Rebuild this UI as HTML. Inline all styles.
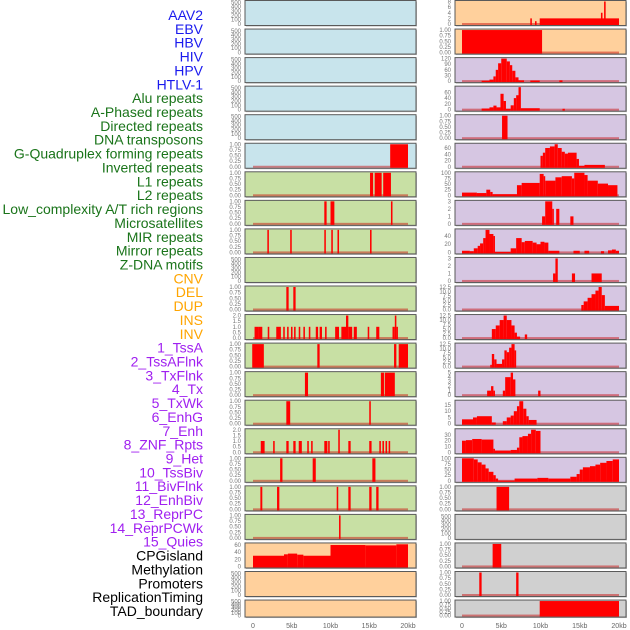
<!DOCTYPE html>
<html><head><meta charset="utf-8"><style>
body{margin:0;background:#fff;}
svg{display:block;font-family:"Liberation Sans",sans-serif;}
</style></head><body>
<svg id="chart" width="630" height="630" xmlns="http://www.w3.org/2000/svg"></svg>
<script>
const labels=["AAV2","EBV","HBV","HIV","HPV","HTLV-1","Alu repeats","A-Phased repeats","Directed repeats","DNA transposons","G-Quadruplex forming repeats","Inverted repeats","L1 repeats","L2 repeats","Low_complexity A/T rich regions","Microsatellites","MIR repeats","Mirror repeats","Z-DNA motifs","CNV","DEL","DUP","INS","INV","1_TssA","2_TssAFlnk","3_TxFlnk","4_Tx","5_TxWk","6_EnhG","7_Enh","8_ZNF_Rpts","9_Het","10_TssBiv","11_BivFlnk","12_EnhBiv","13_ReprPC","14_ReprPCWk","15_Quies","CPGisland","Methylation","Promoters","ReplicationTiming","TAD_boundary"];
const labelColors=["#1a1aee","#1a1aee","#1a1aee","#1a1aee","#1a1aee","#1a1aee","#1a741a","#1a741a","#1a741a","#1a741a","#1a741a","#1a741a","#1a741a","#1a741a","#1a741a","#1a741a","#1a741a","#1a741a","#1a741a","#ffa500","#ffa500","#ffa500","#ffa500","#ffa500","#a020f0","#a020f0","#a020f0","#a020f0","#a020f0","#a020f0","#a020f0","#a020f0","#a020f0","#a020f0","#a020f0","#a020f0","#a020f0","#a020f0","#a020f0","#000","#000","#000","#000","#000"];
const xTicks=["0","5kb","10kb","15kb","20kb"];
const xTickVals=[0,5,10,15,20];
const T500=["0","100","200","300","400","500"];
const T1=["0.00","0.25","0.50","0.75","1.00"];
const T2=["0.0","0.5","1.0","1.5","2.0"];
const T125=["0.0","2.5","5.0","7.5","10.0","12.5"];
const BLUE="#c8e4ec",GREEN="#c8e0a4",PEACH="#ffd09c",LAV="#d6c6e2",GRAY="#d0d0d0";
const leftBg=[BLUE,BLUE,BLUE,BLUE,BLUE,BLUE,GREEN,GREEN,GREEN,GREEN,GREEN,GREEN,GREEN,GREEN,GREEN,GREEN,GREEN,GREEN,GREEN,PEACH,PEACH,PEACH];
const leftTicks=[T500,T500,T500,T500,T500,T1,T1,T1,T1,T500,T1,T2,T1,T1,T1,T2,T1,T1,T1,["0","20","40","60"],T500,T500];
const leftMax=[520,520,520,520,520,1,1,1,1,520,1,2,1,1,1,2,1,1,1,63,520,520];
const leftBars=[[],[],[],[],[],
[[17.7,20,1]],
[[15.1,15.5,1],[15.7,16.6,1],[16.8,17.8,1]],
[[9.2,9.5,1],[10.0,10.5,1],[17.8,18.0,1]],
[[1.85,2.05,1],[4.8,5.0,1],[9.2,9.4,1],[10.1,10.3,1],[10.9,11.1,1],[15.1,15.3,1]],
[],
[[4.3,4.6,1],[5.2,5.5,1]],
[[0.2,0.7,1],[0.7,1.2,1],[1.9,2.1,1],[3.0,3.6,1],[3.9,4.1,1],[4.4,4.6,1],[4.9,5.1,1],[5.3,5.5,1],[5.9,6.1,1],[6.5,6.7,1],[7.2,7.4,1],[8.1,8.4,1],[8.6,8.9,1],[9.3,9.5,1],[10.6,11.1,1],[11.4,12.0,1],[12.0,12.3,2],[12.3,12.8,1],[13.0,13.4,1],[14.8,15.0,1],[15.9,16.3,1],[18.0,18.3,1],[18.3,18.5,2],[18.5,18.7,1]],
[[-0.1,1.4,1],[8.3,8.6,1],[18.2,18.5,1],[18.8,20,1]],
[[6.7,7.1,1],[16.5,16.9,1],[17.0,18.3,1]],
[[4.3,4.8,1],[15.0,15.2,1]],
[[1.0,1.5,1],[2.6,2.8,1],[4.3,4.6,1],[5.2,5.5,1],[5.9,6.3,1],[7.0,7.2,1],[7.5,7.7,1],[9.2,9.6,1],[9.7,9.9,1],[11.0,11.2,2],[12.3,12.6,1],[15.0,15.3,1],[16.3,16.5,1],[16.7,16.9,1],[17.1,17.3,1],[17.5,17.7,1]],
[[3.5,3.8,1],[7.7,8.1,1],[15.4,15.8,1]],
[[0.95,1.2,1],[3.1,3.4,1],[10.8,11.0,1],[12.3,12.6,1],[15.0,15.3,1],[15.9,16.2,1]],
[[11.1,11.3,1]],
[[0,4.0,30],[4.0,4.5,34],[4.5,5.7,36],[5.7,6.5,33],[6.5,10.0,30],[10.0,14.5,60],[14.5,18.5,59],[18.5,20,62]],
[],[]];
const rightBg=[PEACH,PEACH,LAV,LAV,LAV,LAV,LAV,LAV,LAV,LAV,LAV,LAV,LAV,LAV,LAV,LAV,LAV,GRAY,GRAY,GRAY,GRAY,GRAY];
const rightTicks=[["0","2","4","6","8"],T1,["0","30","60","90","120"],["0","20","40","60"],T1,["0","20","40","60"],["0","25","50","75","100"],["0","1","2","3"],["0","20","40"],["0","1","2","3"],T125,T125,T125,["0","1","2","3","4","5"],["0","5","10","15"],["0","10","20","30"],["0","25","50","75","100"],T1,T500,T1,T1,T1];
const rightMax=[8,1,120,78,1,72,100,3,55,3,12.5,12.5,12.5,5,18,39,100,1,520,1,1,1];
const rightBars=[
[[8.7,8.9,2],[9.3,9.5,1],[9.9,20,2],[17.7,17.9,4],[18.1,18.3,8]],
[[0,10.2,1]],
[[2.5,3.5,2],[3.5,4.0,8],[4.0,4.3,25],[4.3,4.6,60],[4.6,5.0,95],[5.0,5.7,120],[5.7,6.1,105],[6.1,6.4,85],[6.4,6.8,55],[6.8,7.2,20],[7.2,7.9,4],[8.7,9.9,3],[12.4,12.8,4]],
[[2.5,3.5,4],[3.5,4.0,8],[4.0,4.4,14],[4.4,4.9,8],[4.9,5.3,55],[5.3,5.6,30],[5.6,6.2,3],[6.2,6.6,15],[6.6,6.9,40],[6.9,7.2,50],[7.2,7.5,78],[7.5,9.9,5],[12.8,13.1,3]],
[[5.1,5.8,1]],
[[10.0,10.3,35],[10.3,10.6,45],[10.6,11.2,60],[11.2,11.8,65],[11.8,12.2,72],[12.2,12.7,60],[12.7,13.1,48],[13.1,13.5,42],[13.5,14.6,45],[14.6,14.9,25],[14.9,15.6,3],[15.6,18.2,6]],
[[0,1.9,12],[1.9,3.1,10],[3.1,3.6,25],[3.6,3.9,15],[3.9,4.2,5],[4.2,7.0,5],[7.0,7.6,45],[7.6,9.9,55],[9.9,10.4,95],[10.4,10.6,85],[10.6,11.9,65],[11.9,12.7,80],[12.7,14.0,85],[14.0,14.3,75],[14.3,15.6,100],[15.6,16.0,90],[16.0,17.3,65],[17.3,18.6,52],[18.6,19.8,45]],
[[10.2,10.6,1],[10.6,11.5,3],[11.5,11.7,2],[12.0,12.4,2],[13.8,14.2,1]],
[[0,1.0,4],[1.0,1.5,3],[1.5,2.0,10],[2.0,2.3,16],[2.3,2.7,22],[2.7,3.0,35],[3.0,3.5,55],[3.5,4.0,45],[4.0,4.2,40],[4.2,6.2,1],[6.2,6.9,10],[6.9,7.6,35],[7.6,8.0,25],[8.0,9.0,28],[9.0,9.5,24],[9.5,10.0,20],[10.0,10.5,26],[10.5,11.0,24],[11.0,12.4,4],[14.2,15.0,4],[15.6,16.2,4],[17.7,18.1,3],[18.6,19.1,5],[19.1,19.6,7],[19.6,20,4]],
[[11.6,11.9,1],[11.9,12.2,3],[14.0,14.4,1],[16.5,17.8,1]],
[[15.2,15.5,2.5],[15.5,16.0,4.5],[16.0,16.5,6.5],[16.5,17.0,8.5],[17.0,17.4,10.5],[17.4,17.8,12.5],[17.8,18.2,8],[18.2,20,2]],
[[3.8,4.3,5],[4.3,4.8,7],[4.8,5.3,10],[5.3,5.7,12.5],[5.7,6.3,10],[6.3,6.7,7],[6.7,7.0,3],[7.0,7.4,0.8],[8.0,8.3,2]],
[[3.6,3.8,1],[3.8,4.1,7],[4.1,4.4,4],[4.4,5.1,1.5],[5.1,5.4,4],[5.4,5.7,9],[5.7,6.0,8],[6.0,6.3,10.5],[6.3,6.7,12.5],[6.7,6.9,9]],
[[3.2,3.7,1],[3.7,4.0,2],[4.0,4.2,1],[5.2,5.5,1],[5.5,6.2,4],[6.2,6.5,5],[6.5,6.8,3.5],[9.7,10.0,1]],
[[0,1.4,3.5],[1.4,1.9,5],[1.9,3.8,6],[3.8,4.3,1],[5.2,5.7,2],[5.7,6.2,5],[6.2,6.6,6.5],[6.6,7.0,10],[7.0,7.3,14],[7.3,7.8,18],[7.8,8.2,12],[8.2,8.5,6],[8.5,9.5,3]],
[[0,0.5,20],[0.5,1.3,21],[1.3,2.5,23],[2.5,4.0,22],[4.0,4.2,6],[4.2,6.2,3],[6.2,7.0,4],[7.0,7.3,8],[7.3,7.7,26],[7.7,8.4,28],[8.4,8.8,32],[8.8,9.4,39],[9.4,10.0,37]],
[[0,1.5,100],[1.5,2.0,95],[2.0,2.5,82],[2.5,3.0,72],[3.0,3.4,55],[3.4,4.0,40],[4.0,4.3,25],[4.3,4.6,10],[4.6,6.7,1],[6.7,9.6,10],[9.6,11.0,13],[11.0,13.8,10],[13.8,14.6,18],[14.6,15.0,30],[15.0,15.4,50],[15.4,16.3,60],[16.3,17.0,65],[17.0,17.6,72],[17.6,18.4,80],[18.4,19.2,88],[19.2,20,95]],
[[4.4,6.0,1]],
[],
[[3.9,5.0,1]],
[[2.2,2.5,1],[6.9,7.2,1]],
[[9.9,20,1]]];
const hasBase=function(ticks){return ticks!==T500;};

const svg=document.getElementById('chart');
const NS="http://www.w3.org/2000/svg";
function mk(tag,attrs,parent){const e=document.createElementNS(NS,tag);for(const k in attrs)e.setAttribute(k,attrs[k]);(parent||svg).appendChild(e);return e;}
function rowTop(i){return 0.5+28.55*i;}
function rowH(i){return i===21?17:25;}
labels.forEach((t,i)=>{
  const e=mk('text',{x:203,y:20+13.86*i,'text-anchor':'end','font-size':'14',fill:labelColors[i]});
  e.textContent=t;
  
  
});
function drawCol(side,x0,x1,zeroX,endX,bgs,ticks,maxes,bars){
  const xs=v=>zeroX+(v/20)*(endX-zeroX);
  for(let i=0;i<bgs.length;i++){
    const top=rowTop(i),h=rowH(i),bot=top+h;
    const g=mk('g',{});
    
    
    mk('rect',{x:x0+1,y:top+1,width:x1-x0,height:h,fill:'#bbb'},g);
    mk('rect',{x:x0,y:top,width:x1-x0,height:h,fill:bgs[i],stroke:'#5a5a5a','stroke-width':1},g);
    const ys=v=>bot-1.5-(v/maxes[i])*(h-2.5);
    ticks[i].forEach(s=>{
      const v=parseFloat(s);
      const t=mk('text',{x:x0-4,y:ys(v)+2,'text-anchor':'end','font-size':'6',fill:'#777'},g);
      t.textContent=s;
      
      
    });
    if(hasBase(ticks[i])){
      const b=mk('rect',{x:xs(0),y:bot-2.5,width:xs(20)-xs(0),height:2,fill:'rgba(200,0,0,0.45)'},g);
      
      
    }
    bars[i].forEach(d=>{
      const a=Math.max(xs(d[0]),x0+0.5),b2=Math.min(xs(d[1]),x1-0.5);
      const w=Math.max(b2-a,1.2);
      const y=Math.max(ys(d[2]),top+0.5);
      const r=mk('rect',{x:a,y:y,width:w,height:bot-0.5-y,fill:'#ff0000'},g);
      
      
    });
  }
  xTickVals.forEach((v,k)=>{
    const t=mk('text',{x:xs(v),y:628,'text-anchor':'middle','font-size':'7',fill:'#666'});
    t.textContent=xTicks[k];
    
    
  });
}
drawCol('left',245,416,253,408,leftBg,leftTicks,leftMax,leftBars);
drawCol('right',455,626,462,619,rightBg,rightTicks,rightMax,rightBars);
</script>
</body></html>
